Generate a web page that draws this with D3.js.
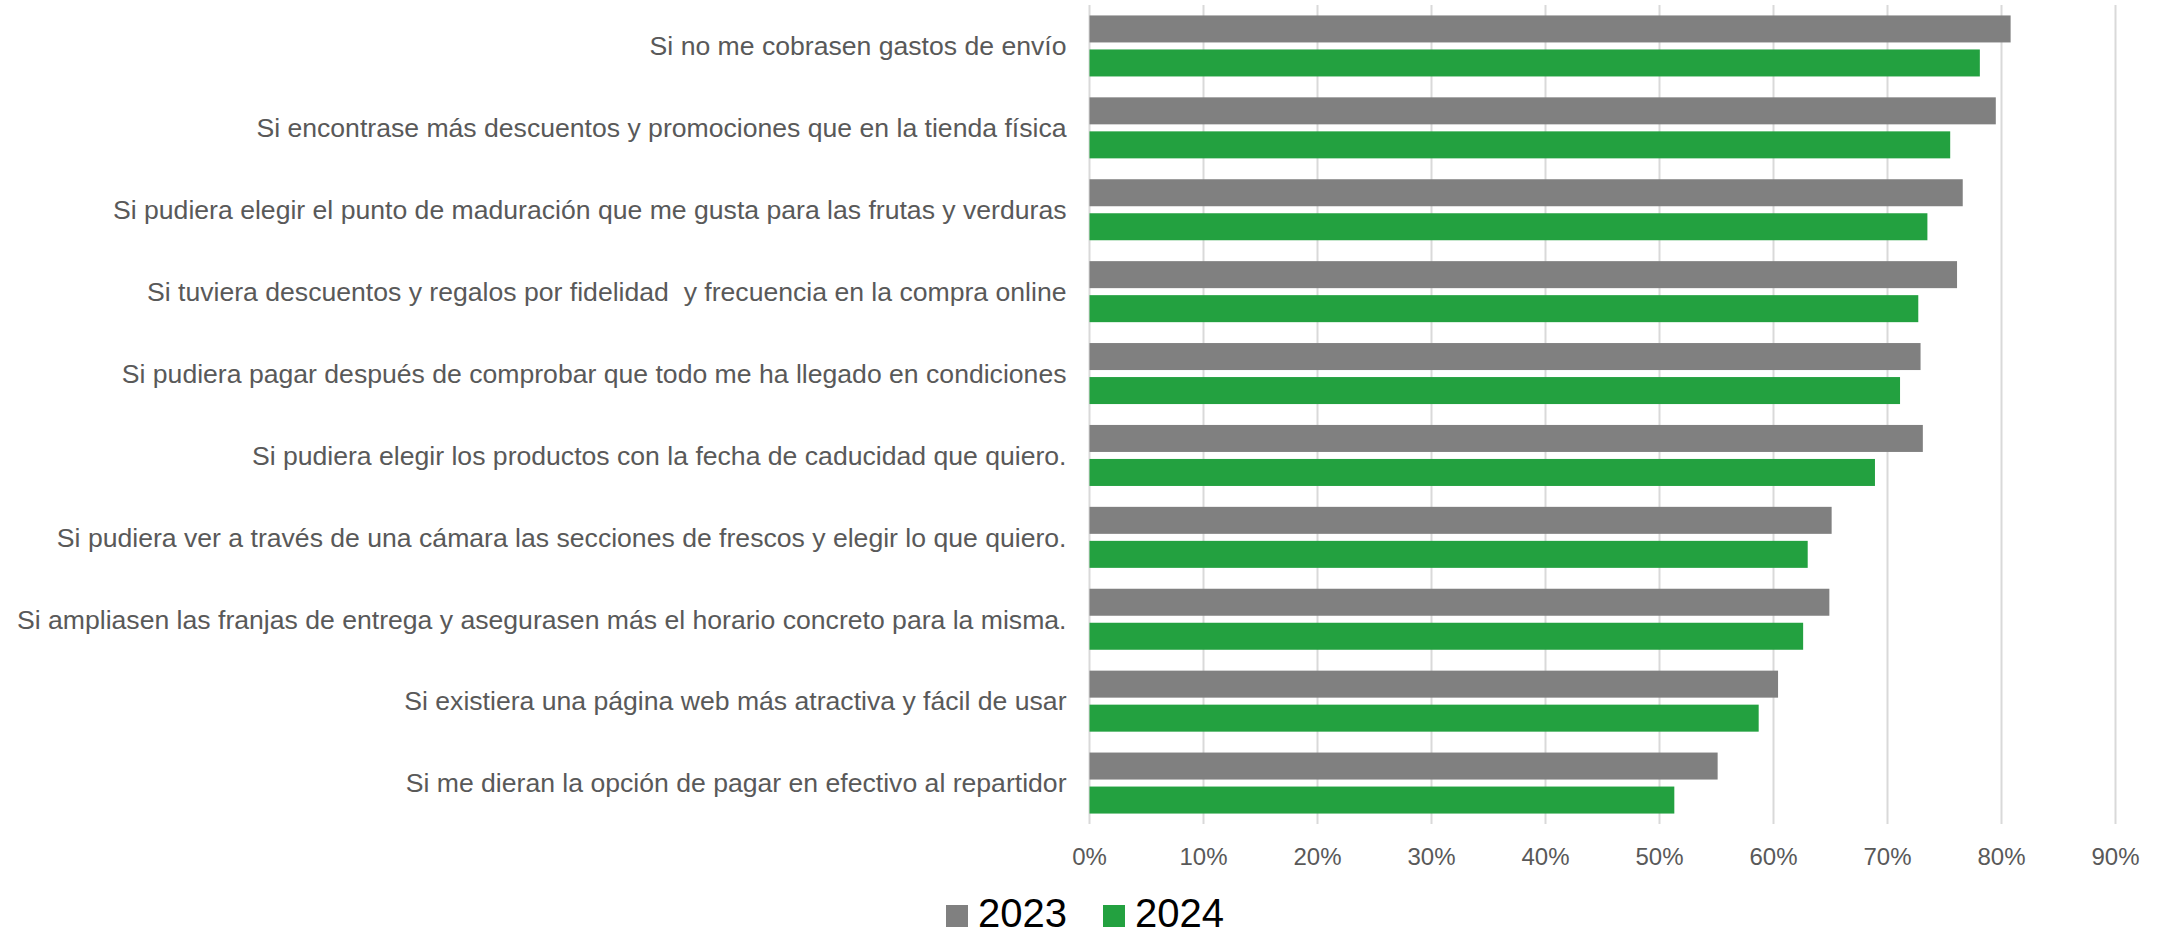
<!DOCTYPE html>
<html lang="es">
<head>
  <meta charset="UTF-8">
  <title>Compra online</title>
  <script src="https://d3js.org/d3.v7.min.js"></script>
  <style>
    body { margin: 0; background-color: white; font-family: "Liberation Sans", Arial, Helvetica, sans-serif; }
    .grid line { stroke: #d9d9d9; stroke-width: 2px; }
    .catlabel { fill: #595959; font-size: 26.6px; text-anchor: end; white-space: pre; }
    .ticklabel { fill: #595959; font-size: 24px; text-anchor: middle; }
    .legendtext { fill: #000; font-size: 40px; }
  </style>
</head>
<body>

<svg id="svg">
  <g id="grid" class="grid"></g>
  <g id="bars"></g>
  <g id="labels"></g>
  <g id="ticks"></g>
  <g id="legend"></g>
</svg>

<script>
// data
const categories = [
  "Si no me cobrasen gastos de envío",
  "Si encontrase más descuentos y promociones que en la tienda física",
  "Si pudiera elegir el punto de maduración que me gusta para las frutas y verduras",
  "Si tuviera descuentos y regalos por fidelidad  y frecuencia en la compra online",
  "Si pudiera pagar después de comprobar que todo me ha llegado en condiciones",
  "Si pudiera elegir los productos con la fecha de caducidad que quiero.",
  "Si pudiera ver a través de una cámara las secciones de frescos y elegir lo que quiero.",
  "Si ampliasen las franjas de entrega y asegurasen más el horario concreto para la misma.",
  "Si existiera una página web más atractiva y fácil de usar",
  "Si me dieran la opción de pagar en efectivo al repartidor"
];
const values2023 = [0.808, 0.795, 0.766, 0.761, 0.729, 0.731, 0.651, 0.649, 0.604, 0.551];
const values2024 = [0.781, 0.755, 0.735, 0.727, 0.711, 0.689, 0.630, 0.626, 0.587, 0.513];
const seriesNames = ["2023", "2024"];
const seriesColors = ["#808080", "#23a140"];
const tickValues = [0, 0.1, 0.2, 0.3, 0.4, 0.5, 0.6, 0.7, 0.8, 0.9];

const width = 2162;
const height = 936;
const plotLeft = 1089.5;
const plotRight = 2115.5;
const plotTop = 5;
const plotBottom = 824;

const svg = d3.select("#svg").attr("width", width).attr("height", height);

var x = d3.scaleLinear().domain([0, 0.9]).range([plotLeft, plotRight]);
var y = d3.scaleBand().domain(categories).range([plotTop, plotBottom]);
var ySeries = d3.scaleBand().domain(seriesNames).range([0, y.bandwidth()])
  .paddingInner(0.206).paddingOuter(0.307);

// gridlines
d3.select("#grid").selectAll("line")
  .data(tickValues)
  .join("line")
  .attr("x1", d => x(d))
  .attr("x2", d => x(d))
  .attr("y1", plotTop)
  .attr("y2", plotBottom);

// bars
var rows = categories.map((c, i) => ({cat: c, vals: [values2023[i], values2024[i]]}));
const barGroups = d3.select("#bars").selectAll("g")
  .data(rows)
  .join("g")
  .attr("transform", d => "translate(0," + y(d.cat) + ")");

barGroups.selectAll("rect")
  .data(d => d.vals.map((v, k) => ({series: seriesNames[k], value: v, k: k})))
  .join("rect")
  .attr("x", x(0))
  .attr("y", d => ySeries(d.series))
  .attr("width", d => x(d.value) - x(0))
  .attr("height", ySeries.bandwidth())
  .attr("fill", d => seriesColors[d.k]);

// category labels
d3.select("#labels").selectAll("text")
  .data(categories)
  .join("text")
  .attr("class", "catlabel")
  .attr("x", plotLeft - 23)
  .attr("y", d => y(d) + y.bandwidth() / 2)
  .attr("dy", "0.35em")
  .text(d => d);

// x tick labels
d3.select("#ticks").selectAll("text")
  .data(tickValues)
  .join("text")
  .attr("class", "ticklabel")
  .attr("x", d => x(d))
  .attr("y", 865)
  .text(d => d3.format(".0%")(d));

// legend
var legendItems = [
  {name: seriesNames[0], color: seriesColors[0], x: 946},
  {name: seriesNames[1], color: seriesColors[1], x: 1103}
];
const legend = d3.select("#legend").selectAll("g")
  .data(legendItems)
  .join("g")
  .attr("transform", d => "translate(" + d.x + ",905)");
legend.append("rect")
  .attr("width", 22)
  .attr("height", 22)
  .attr("fill", d => d.color);
legend.append("text")
  .attr("class", "legendtext")
  .attr("x", 32)
  .attr("y", 22)
  .text(d => d.name);
</script>

</body>
</html>
